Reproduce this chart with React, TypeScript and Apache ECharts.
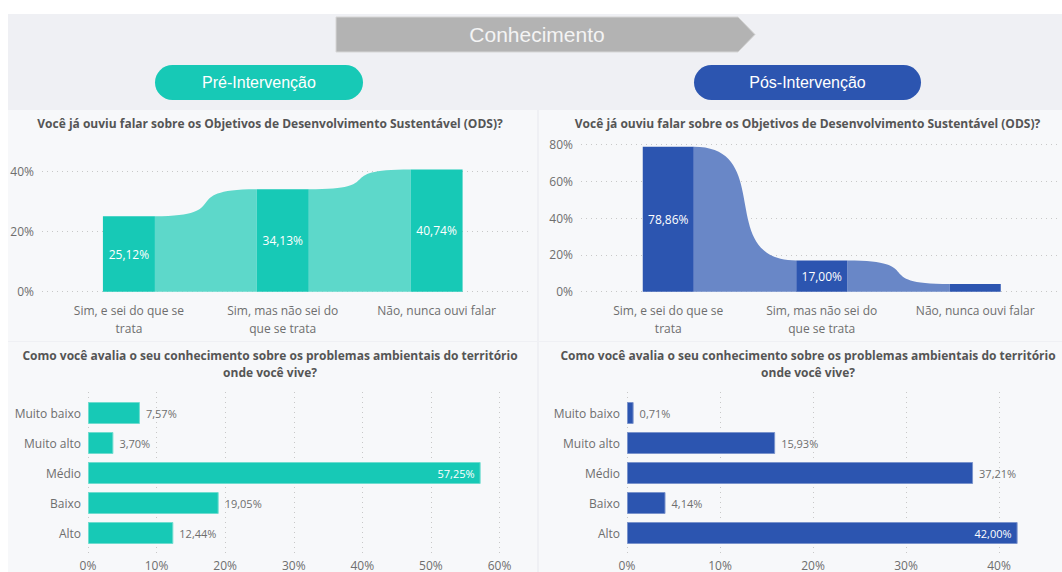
import React, { useEffect, useRef } from 'react';
import * as echarts from 'echarts';

// ---------- data ----------
const pageTitle = 'Conhecimento';
const preLabel = 'Pré-Intervenção';
const posLabel = 'Pós-Intervenção';
const odsTitle = 'Você já ouviu falar sobre os Objetivos de Desenvolvimento Sustentável (ODS)?';
const knowTitle = 'Como você avalia o seu conhecimento sobre os problemas ambientais do território\nonde você vive?';

const odsCategories = ['Sim, e sei do que se\ntrata', 'Sim, mas não sei do\nque se trata', 'Não, nunca ouvi falar'];
const odsPre = [25.12, 34.13, 40.74];
const odsPos = [78.86, 17.0, 4.14];
const odsPreTicks = [0, 20, 40];
const odsPosTicks = [0, 20, 40, 60, 80];

const knowCategories = ['Muito baixo', 'Muito alto', 'Médio', 'Baixo', 'Alto'];
const knowPre = [7.57, 3.7, 57.25, 19.05, 12.44];
const knowPos = [0.71, 15.93, 37.21, 4.14, 42.0];
const knowPreTicks = [0, 10, 20, 30, 40, 50, 60];
const knowPosTicks = [0, 10, 20, 30, 40];

// ---------- styles ----------
const TEAL = '#17c9b6';
const TEAL_LIGHT = '#5dd8ca';
const BLUE = '#2c55b0';
const BLUE_LIGHT = '#6987c7';
const LABEL = '#6e6e6e';
const TITLE = '#555555';
const FONT = '"Open Sans", "Noto Sans", sans-serif';
const ARIAL = '"Liberation Sans", Arial, sans-serif';

const pct = (v: number) => v.toFixed(2).replace('.', ',') + '%';
const tickPct = (v: number) => `${v}%`;

const splitDotted = { show: true, lineStyle: { type: [1, 4] as any, color: '#c8c8c8', width: 1 } };

function ribbon(values: number[], color: string, xi: number, yi: number, barW: number) {
  return {
    type: 'custom',
    xAxisIndex: xi,
    yAxisIndex: yi,
    z: 1,
    silent: true,
    clip: false,
    data: values.slice(0, -1).map((v, i) => [i, v, values[i + 1]]),
    renderItem: (params: any, api: any) => {
      const i = api.value(0);
      const a = api.coord([i, api.value(1)]);
      const b = api.coord([i + 1, api.value(2)]);
      const base = api.coord([i, 0])[1];
      const x1 = a[0] + barW / 2;
      const x2 = b[0] - barW / 2;
      const w = x2 - x1;
      const k = 0.8;
      const d = `M${x1} ${base} L${x1} ${a[1]} C${x1 + w * k} ${a[1]} ${x2 - w * k} ${b[1]} ${x2} ${b[1]} L${x2} ${base} Z`;
      return { type: 'path', shape: { pathData: d }, style: { fill: color } };
    },
  };
}

function odsBars(values: number[], color: string, xi: number, yi: number, barW: number) {
  return {
    type: 'bar',
    xAxisIndex: xi,
    yAxisIndex: yi,
    barWidth: barW,
    clip: false,
    z: 2,
    itemStyle: { color },
    data: values.map((v) => ({
      value: v,
      label: { show: v >= 10 },
    })),
    label: {
      position: 'inside',
      color: '#ffffff',
      fontFamily: FONT,
      fontSize: 12,
      formatter: (p: any) => pct(p.value),
    },
  };
}

function knowBars(values: number[], color: string, border: string, xi: number, yi: number, axisMax: number) {
  return {
    type: 'bar',
    xAxisIndex: xi,
    yAxisIndex: yi,
    barWidth: 22,
    clip: false,
    z: 2,
    itemStyle: { color, borderColor: border, borderWidth: 1 },
    data: values.map((v) => {
      const inside = v / axisMax > 0.92;
      return {
        value: v,
        label: inside
          ? { position: 'insideRight', color: '#ffffff', distance: 6 }
          : { position: 'right', color: LABEL, distance: 6 },
      };
    }),
    label: {
      show: true,
      fontFamily: FONT,
      fontSize: 11,
      formatter: (p: any) => pct(p.value),
    },
  };
}

function buildOption() {
  const preMax = knowPreTicks[knowPreTicks.length - 1];
  const posMaxBars = Math.max(...knowPos);

  const grid = [
    // 0 top-left gridlines
    { left: 42, top: 171.7, width: 490, height: 120 },
    // 1 top-left bars
    { left: 52, top: 171.7, width: 461.5, height: 120 },
    // 2 top-right gridlines
    { left: 581, top: 144.7, width: 478, height: 147 },
    // 3 top-right bars
    { left: 591.5, top: 144.7, width: 460.5, height: 147 },
    // 4 bottom-left gridlines
    { left: 88, top: 392, width: 411.5, height: 165 },
    // 5 bottom-left bars
    { left: 88, top: 398, width: 411.5, height: 150 },
    // 6 bottom-right gridlines
    { left: 627, top: 392, width: 372, height: 165 },
    // 7 bottom-right bars
    { left: 627, top: 398, width: 372 * (posMaxBars / knowPosTicks[knowPosTicks.length - 1]), height: 150 },
  ].map((g) => ({ ...g, containLabel: false }));

  const hiddenValue = (gi: number, min = 0, max = 1) => ({
    type: 'value', gridIndex: gi, min, max, show: false,
  });

  const yTickAxis = (gi: number, ticks: number[]) => ({
    type: 'value',
    gridIndex: gi,
    min: ticks[0],
    max: ticks[ticks.length - 1],
    interval: ticks[1] - ticks[0],
    axisLine: { show: false },
    axisTick: { show: false },
    axisLabel: { color: LABEL, fontFamily: FONT, fontSize: 12, margin: 8, formatter: tickPct },
    splitLine: splitDotted,
  });

  const xTickAxis = (gi: number, ticks: number[]) => ({
    type: 'value',
    gridIndex: gi,
    min: ticks[0],
    max: ticks[ticks.length - 1],
    interval: ticks[1] - ticks[0],
    axisLine: { show: false },
    axisTick: { show: false },
    axisLabel: { color: LABEL, fontFamily: FONT, fontSize: 12, margin: 2, formatter: tickPct },
    splitLine: splitDotted,
  });

  const odsCatAxis = (gi: number) => ({
    type: 'category',
    gridIndex: gi,
    data: odsCategories,
    axisLine: { show: false },
    axisTick: { show: false },
    axisLabel: { color: LABEL, fontFamily: FONT, fontSize: 12, lineHeight: 18, margin: 10, interval: 0 },
    splitLine: { show: false },
  });

  const knowCatAxis = (gi: number) => ({
    type: 'category',
    gridIndex: gi,
    data: knowCategories,
    inverse: true,
    axisLine: { show: false },
    axisTick: { show: false },
    axisLabel: { color: LABEL, fontFamily: FONT, fontSize: 12, margin: 7, interval: 0 },
    splitLine: { show: false },
  });

  const xAxis = [
    hiddenValue(0),
    odsCatAxis(1),
    hiddenValue(2),
    odsCatAxis(3),
    xTickAxis(4, knowPreTicks),
    { type: 'value', gridIndex: 5, min: 0, max: preMax, show: false },
    xTickAxis(6, knowPosTicks),
    { type: 'value', gridIndex: 7, min: 0, max: posMaxBars, show: false },
  ];

  const yAxis = [
    yTickAxis(0, odsPreTicks),
    { type: 'value', gridIndex: 1, min: odsPreTicks[0], max: odsPreTicks[odsPreTicks.length - 1], show: false },
    yTickAxis(2, odsPosTicks),
    { type: 'value', gridIndex: 3, min: odsPosTicks[0], max: odsPosTicks[odsPosTicks.length - 1], show: false },
    hiddenValue(4),
    knowCatAxis(5),
    hiddenValue(6),
    knowCatAxis(7),
  ];

  const series = [
    ribbon(odsPre, TEAL_LIGHT, 1, 1, 52),
    odsBars(odsPre, TEAL, 1, 1, 52),
    ribbon(odsPos, BLUE_LIGHT, 3, 3, 51),
    odsBars(odsPos, BLUE, 3, 3, 51),
    knowBars(knowPre, TEAL, '#6fdccf', 5, 5, preMax),
    knowBars(knowPos, BLUE, '#7a93cc', 7, 7, posMaxBars),
  ];

  const titleText = (x: number, y: number, text: string) => ({
    type: 'text',
    x,
    y,
    z: 5,
    silent: true,
    style: {
      text,
      fill: TITLE,
      fontFamily: FONT,
      fontWeight: 'bold',
      fontSize: 12,
      lineHeight: 17,
      align: 'center',
      verticalAlign: 'top',
    },
  });

  const graphic = [
    { type: 'rect', z: -10, silent: true, shape: { x: 8, y: 14, width: 1054, height: 558 }, style: { fill: '#eff0f4' } },
    { type: 'rect', z: -9, silent: true, shape: { x: 8, y: 110, width: 529, height: 231 }, style: { fill: '#f7f8fa' } },
    { type: 'rect', z: -9, silent: true, shape: { x: 539, y: 110, width: 523, height: 231 }, style: { fill: '#f7f8fa' } },
    { type: 'rect', z: -9, silent: true, shape: { x: 8, y: 342, width: 529, height: 230 }, style: { fill: '#f7f8fa' } },
    { type: 'rect', z: -9, silent: true, shape: { x: 539, y: 342, width: 523, height: 230 }, style: { fill: '#f7f8fa' } },
    {
      type: 'polygon', z: -8, silent: true,
      shape: { points: [[336, 17], [738, 17], [755, 34.5], [738, 52], [336, 52]] },
      style: { fill: '#b3b3b3', stroke: '#d6d6d6', lineWidth: 1 },
    },
    {
      type: 'text', z: 5, silent: true, x: 537, y: 34.5,
      style: { text: pageTitle, fill: '#f4f4f4', fontFamily: ARIAL, fontSize: 21, align: 'center', verticalAlign: 'middle' },
    },
    { type: 'rect', z: -8, silent: true, shape: { x: 155, y: 65, width: 208, height: 35, r: 17.5 }, style: { fill: TEAL } },
    {
      type: 'text', z: 5, silent: true, x: 259, y: 82.5,
      style: { text: preLabel, fill: '#ffffff', fontFamily: ARIAL, fontSize: 16, align: 'center', verticalAlign: 'middle' },
    },
    { type: 'rect', z: -8, silent: true, shape: { x: 694, y: 65, width: 227, height: 35, r: 17.5 }, style: { fill: BLUE } },
    {
      type: 'text', z: 5, silent: true, x: 807.5, y: 82.5,
      style: { text: posLabel, fill: '#ffffff', fontFamily: ARIAL, fontSize: 16, align: 'center', verticalAlign: 'middle' },
    },
    titleText(270, 115, odsTitle),
    titleText(807.5, 115, odsTitle),
    titleText(270, 346.5, knowTitle),
    titleText(808, 346.5, knowTitle),
  ];

  return {
    animation: false,
    backgroundColor: '#ffffff',
    grid,
    xAxis,
    yAxis,
    series,
    graphic,
  };
}

export default function App() {
  const ref = useRef<HTMLDivElement>(null);
  useEffect(() => {
    document.body.style.margin = '0';
    const chart = echarts.init(ref.current as HTMLDivElement, null, { renderer: 'svg' });
    chart.setOption(buildOption() as any);
    return () => chart.dispose();
  }, []);
  return <div ref={ref} style={{ width: 1062, height: 572 }} />;
}
